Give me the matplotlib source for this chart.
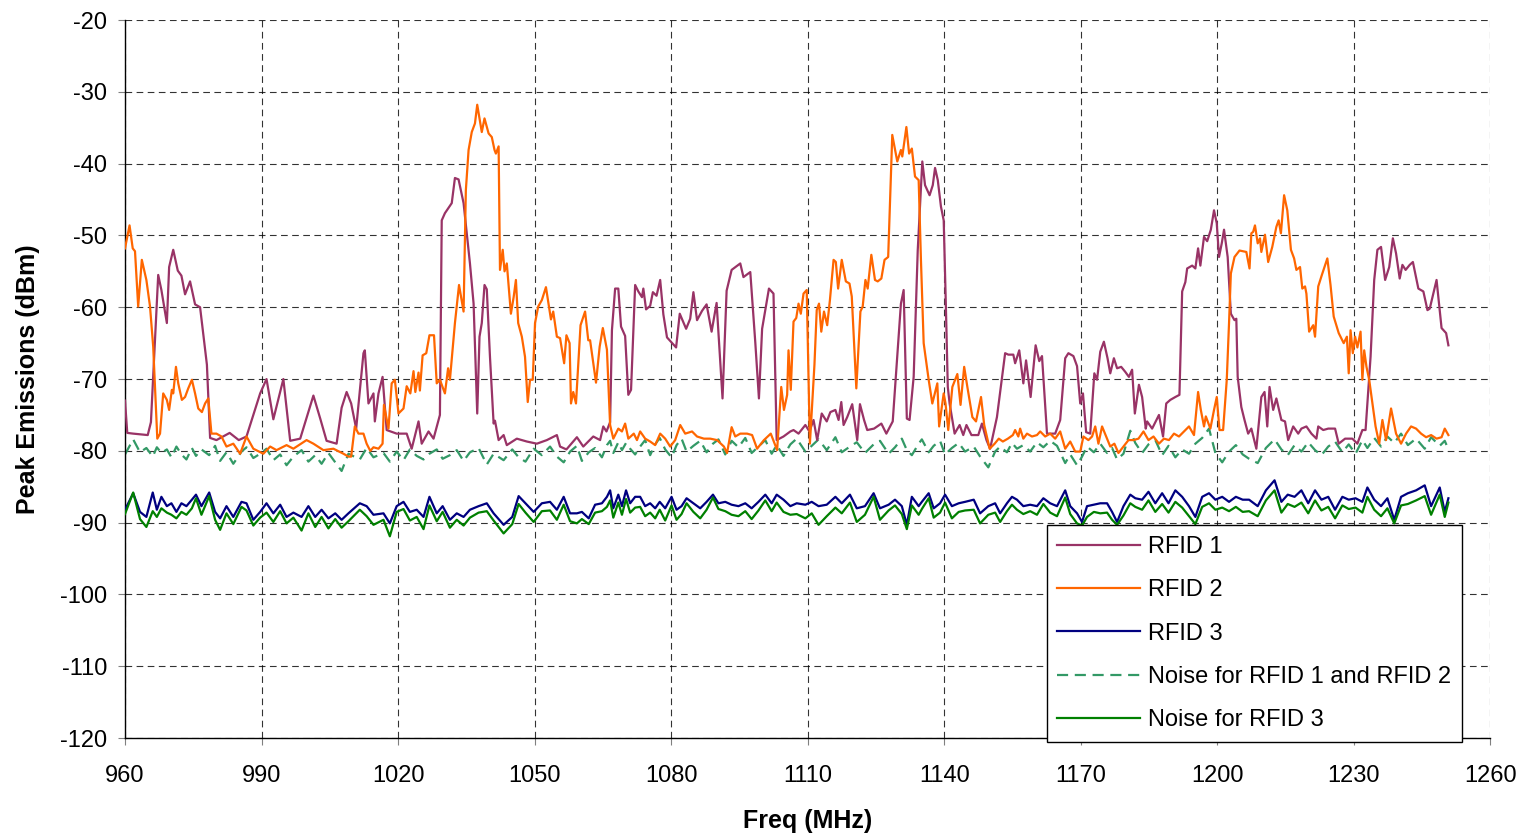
import matplotlib
matplotlib.use("Agg")
import matplotlib.pyplot as plt
import numpy as np

plt.rcParams["font.family"] = ["Liberation Sans", "DejaVu Sans"]
plt.rcParams["axes.unicode_minus"] = False

# (freq MHz, peak dBm)
rfid1 = [
    (960, -73), (960.5, -77.5), (961.8, -77.6), (965, -77.8), (965.7, -76), (967.3, -55.5),
    (968, -57.6), (969.2, -62.2), (969.7, -54.4), (970.6, -52), (971.6, -54.9), (972.4, -55.6),
    (973.2, -58.2), (974.3, -56.4), (975.4, -59.6), (976.5, -60), (978, -68), (978.7, -78.2),
    (980.1, -78.5), (983, -77.5), (985, -78.5), (986.7, -78), (989.7, -72), (991.1, -70),
    (992.6, -75.6), (994.8, -70), (996.3, -78.6), (998.5, -78.3), (1001.4, -72.3), (1002.9, -75.5),
    (1004.3, -78.6), (1006.5, -79), (1007.6, -74), (1008.7, -71.8), (1009.7, -73.4), (1010.8, -76.9),
    (1012.4, -66.4), (1012.7, -66), (1013.5, -73.4), (1014.6, -72), (1014.9, -75.9), (1015.7, -72),
    (1016.6, -69.7), (1017.5, -77.1), (1019.7, -77.6), (1021.9, -77.6), (1023, -79.7), (1024.5, -75.9),
    (1025.2, -79), (1026.7, -77.3), (1027.8, -78.3), (1029.2, -75), (1029.6, -47.9), (1030.3, -46.9),
    (1031.8, -45.5), (1032.5, -42), (1033.3, -42.2), (1034.4, -45.5), (1035.1, -49.7), (1035.8, -53.9),
    (1036.6, -59.5), (1037.4, -74.8), (1037.9, -64.1), (1038.4, -62.2), (1039, -56.9), (1039.5, -57.5),
    (1040.2, -66.9), (1041, -76.2), (1041.3, -75.8), (1042.1, -78.5), (1043.2, -77.8), (1043.9, -79.2),
    (1046.1, -78.3), (1048.3, -78.7), (1050.5, -79), (1052.7, -78.5), (1054.9, -77.8), (1055.6, -79.4),
    (1057, -79.8), (1059.3, -78.1), (1060.7, -79.4), (1062.9, -78), (1064.4, -78.5), (1065.1, -76.6),
    (1065.8, -77.3), (1066.6, -76), (1067, -63.2), (1067.7, -57.4), (1068.4, -57.4), (1069, -62.7),
    (1069.9, -64), (1070.6, -72.2), (1071.2, -71.5), (1072.1, -56.9), (1072.8, -57.8), (1073.6, -58.6),
    (1073.9, -57.4), (1074.5, -60.3), (1075.4, -59.8), (1076, -57.9), (1076.8, -58.4), (1077.6, -56.2),
    (1078.3, -61), (1079.1, -64.2), (1080.1, -64.9), (1081.1, -65.6), (1081.9, -60.9), (1083.3, -63),
    (1084.2, -61.6), (1084.9, -57.9), (1085.7, -61.8), (1086.8, -60.5), (1087.8, -59.6), (1088.9, -63.4),
    (1090, -59.4), (1091.3, -72.7), (1092.2, -57.7), (1093.3, -54.8), (1095.2, -53.9), (1095.9, -55.8),
    (1097.4, -55.1), (1098.5, -64.9), (1099.3, -72.7), (1100, -63), (1101.5, -57.4), (1102.5, -58.1),
    (1103.2, -78.5), (1104.7, -78), (1106.2, -77.3), (1106.9, -77.1), (1108, -77.6), (1109.5, -76.4),
    (1110.4, -77.3), (1111.3, -75.7), (1112.1, -78.5), (1113.1, -74.8), (1114.2, -75.9), (1115, -74.6),
    (1116.1, -74.3), (1116.8, -75.7), (1117.4, -73.2), (1117.9, -76.4), (1118.7, -75.3), (1119.8, -73.5),
    (1120.9, -78.5), (1121.5, -73.5), (1122.4, -75.7), (1123.1, -77.1), (1124.6, -76.9), (1126.2, -76.2),
    (1127.3, -77.6), (1128.7, -75.9), (1129.8, -66), (1130.5, -59.5), (1131.1, -57.6), (1131.8, -75.5),
    (1132.4, -75.7), (1133.3, -69.7), (1134.2, -52), (1135.2, -39.7), (1135.8, -43), (1136.8, -44.4),
    (1137.5, -43), (1138, -40.6), (1138.6, -42.3), (1139.3, -46), (1139.9, -47.9), (1140.4, -60.4),
    (1140.8, -71.1), (1141.2, -73.4), (1142.3, -77.6), (1143.4, -76.4), (1144.2, -77.8), (1144.9, -76.4),
    (1146, -77.8), (1147.5, -77.8), (1148.3, -76.2), (1149.3, -78.5), (1150.1, -79.7), (1151.6, -75.3),
    (1152.4, -71.3), (1153.4, -66.4), (1154.1, -66.6), (1155.2, -66.6), (1155.6, -67.8), (1156.5, -66),
    (1157.4, -70.6), (1158, -67.4), (1159, -72.5), (1160.1, -65.3), (1160.9, -67.5), (1161.5, -66.8),
    (1162.6, -77.6), (1164.4, -77.6), (1165.5, -75.7), (1166.6, -67.1), (1167.3, -66.4), (1168.4, -66.8),
    (1169.2, -68.2), (1169.9, -73.4), (1170.5, -72), (1171.2, -77.4), (1172.1, -77.6), (1173, -69.2),
    (1173.6, -70.1), (1174.3, -66.2), (1175.1, -64.8), (1175.9, -67.1), (1176.5, -69.2), (1177.3, -67.1),
    (1178, -68.5), (1178.9, -68.3), (1179.8, -69), (1180.6, -69.7), (1181.3, -68.7), (1181.9, -74.8),
    (1182.8, -70.8), (1183.5, -72.5), (1184.3, -76.9), (1184.6, -75.9), (1185.7, -76.9), (1187.2, -75),
    (1188.1, -78), (1188.8, -73.4), (1189.7, -72.9), (1190.8, -72.5), (1191.7, -72.2), (1192.3, -57.8),
    (1193, -56.5), (1193.4, -54.6), (1194.5, -54.2), (1195.2, -54.6), (1195.8, -51.8), (1196.3, -54.2),
    (1197.1, -50.2), (1197.8, -50.8), (1198.6, -49.2), (1199.3, -46.5), (1199.9, -48.3), (1200.4, -53),
    (1201, -51.1), (1201.5, -49.2), (1202.3, -53), (1203, -60.9), (1203.8, -61.8), (1204.2, -61.6),
    (1204.5, -69.7), (1205.3, -73.9), (1206, -75.7), (1206.8, -77.6), (1207.5, -76.9), (1208.6, -79.7),
    (1209.7, -72.5), (1210.4, -71.8), (1211, -76.6), (1211.5, -71.1), (1212.3, -74.3), (1213, -72.7),
    (1214.1, -75.7), (1214.9, -75.9), (1215.6, -78.5), (1216.7, -76.6), (1217.8, -77.6), (1218.5, -76.9),
    (1219.6, -76.6), (1220.7, -77.6), (1221.8, -78.3), (1222.2, -76.6), (1223.3, -77.1), (1224.4, -76.9),
    (1225.9, -76.9), (1226.7, -79), (1228.1, -78.3), (1229.7, -78.3), (1230.8, -79), (1231.9, -77.1),
    (1232.6, -77.1), (1233, -73.4), (1233.7, -66.9), (1234.5, -56.2), (1235.2, -52), (1236, -51.6),
    (1236.9, -56.2), (1237.8, -54.4), (1238.6, -50.4), (1239.3, -52.5), (1240.1, -56), (1240.7, -54.1),
    (1241.4, -54.8), (1242.3, -54.1), (1243, -53.7), (1244.2, -57.4), (1245.3, -57.8), (1246.2, -60.4),
    (1246.7, -60.2), (1248.2, -56.2), (1249.3, -62.9), (1250.3, -63.6), (1250.8, -65.3),
]

rfid2 = [
    (960, -51.8), (961, -48.6), (961.7, -51.8), (962.2, -52.2), (962.9, -59.9), (963.7, -53.4),
    (964.7, -56.2), (965.5, -59.9), (966.2, -65.5), (966.6, -71.1), (967.1, -78.3), (967.7, -77.6),
    (968.4, -72), (969.2, -72.9), (969.7, -74.3), (970.3, -71.5), (970.6, -72), (971.2, -68.3),
    (971.7, -70.6), (972.5, -72.9), (973.2, -72.5), (973.9, -71.3), (974.7, -70.1), (975.4, -72),
    (976.1, -74.1), (976.9, -74.6), (977.6, -73.4), (978.3, -72.7), (979, -77.6), (980.1, -77.6),
    (981.2, -78), (982.3, -79.4), (983.8, -79), (985.3, -80.4), (986.7, -78), (988.2, -79.7),
    (990.4, -80.4), (991.9, -79.4), (993.3, -79.9), (995.5, -79.2), (997, -79.7), (999.9, -78.5),
    (1001.4, -79), (1003.6, -79.9), (1005.8, -79.7), (1008, -80.4), (1009.1, -80.8), (1009.7, -80.8),
    (1010.5, -76.6), (1011.3, -77.6), (1012.4, -77.6), (1013.1, -79), (1013.9, -80), (1014.6, -79.5),
    (1015.7, -79.7), (1016.6, -79), (1016.9, -73.6), (1017.9, -76.9), (1018.6, -70.6), (1019.3, -70.1),
    (1020.1, -74.8), (1021.2, -74.1), (1021.9, -71), (1022.7, -72), (1023.4, -68.9), (1023.8, -71.8),
    (1024.5, -69.1), (1024.8, -71.6), (1025.4, -66.7), (1026.2, -66.4), (1026.9, -63.9), (1027.9, -63.9),
    (1028.5, -70.6), (1029.2, -70.1), (1030.3, -72), (1031, -68.5), (1031.4, -70.1), (1032.5, -62.2),
    (1033.4, -56.9), (1034.4, -60.6), (1034.9, -43.7), (1035.5, -38.1), (1036.2, -35.6), (1036.9, -34.4),
    (1037.4, -31.8), (1038.4, -35.6), (1039, -33.7), (1039.9, -35.8), (1040.6, -36.3), (1041.2, -38.1),
    (1041.5, -38.6), (1042.1, -37.6), (1042.4, -54.8), (1043, -52), (1043.4, -55), (1043.9, -53.9),
    (1044.8, -60.9), (1045.4, -58.6), (1045.9, -56.2), (1046.4, -62.2), (1047.2, -64.1), (1047.9, -66.9),
    (1048.5, -73.2), (1049, -70.1), (1049.6, -70.1), (1050.1, -62.2), (1050.8, -59.9), (1051.6, -59),
    (1052.5, -57.2), (1053.6, -61.7), (1054.1, -60.6), (1054.9, -64.1), (1055.6, -64.3), (1056.5, -67.8),
    (1057, -63.9), (1057.7, -65), (1058, -73.4), (1058.5, -71.8), (1059.1, -73.4), (1060.1, -62.5),
    (1061.1, -60.6), (1061.8, -64.6), (1062.2, -64.6), (1063.5, -70.5), (1064.3, -65.5), (1065, -62.9),
    (1065.9, -65.9), (1066.6, -76.4), (1067.3, -78.3), (1068.4, -76.9), (1069.2, -77.3), (1069.9, -76.2),
    (1070.6, -78.3), (1071.8, -77.6), (1072.5, -78.5), (1073.2, -77.3), (1074.3, -78.3), (1075.4, -78.7),
    (1076.5, -79.2), (1077.6, -77.6), (1078.7, -78.3), (1079.8, -79.4), (1080.9, -78.5), (1082, -76.4),
    (1083.1, -77.6), (1084.6, -77.3), (1085.7, -78), (1087.2, -78.3), (1088.6, -78.3), (1090.1, -78.5),
    (1091.6, -79.4), (1092.3, -80.3), (1093.3, -76.7), (1094.1, -78), (1095.2, -77.6), (1096.7, -77.6),
    (1097.8, -77.8), (1098.9, -79.7), (1100.4, -78.5), (1101.9, -77.6), (1103.3, -79.9), (1104.2, -71.1),
    (1104.8, -74.3), (1105.5, -72.2), (1105.8, -66), (1106.3, -71.5), (1106.9, -62), (1107.5, -61.5),
    (1108, -59.5), (1108.5, -60.9), (1109.1, -58.1), (1109.8, -57.6), (1110.5, -79), (1111.5, -68),
    (1112, -60.4), (1112.5, -59.5), (1113, -63.4), (1113.6, -60.6), (1114.3, -62.5), (1114.9, -59),
    (1115.7, -53.4), (1116.2, -53.7), (1116.7, -57.4), (1117.5, -53.4), (1118.4, -56.4), (1119.2, -56.7),
    (1119.7, -58.5), (1120.7, -71.3), (1121.6, -60.6), (1122.1, -59.9), (1122.7, -56.2), (1123.2, -57.4),
    (1124, -52.7), (1124.8, -56.2), (1125.4, -56.4), (1126.2, -56), (1126.9, -53.4), (1127.7, -53),
    (1128.6, -36), (1129.7, -39.7), (1130.5, -38.1), (1130.8, -39), (1131.7, -34.9), (1132.3, -38.6),
    (1132.9, -37.9), (1133.6, -41.8), (1134.4, -42.3), (1134.9, -53.4), (1135.5, -65), (1136.6, -70.1),
    (1137.4, -73.4), (1138.5, -70.6), (1138.9, -76.6), (1139.9, -72), (1140.3, -73.4), (1140.9, -77.1),
    (1141.8, -71.1), (1142.9, -69.3), (1143.6, -73.6), (1144.4, -68.3), (1145.1, -71.1), (1146.2, -75.3),
    (1147, -75.9), (1148.1, -72.5), (1148.8, -76.4), (1150, -79.7), (1151.1, -79), (1152, -78.3),
    (1152.9, -78.7), (1154, -78.3), (1155.1, -77.8), (1155.6, -77.1), (1156.3, -78), (1156.7, -76.9),
    (1157.4, -78.3), (1158.2, -77.6), (1159.3, -78), (1160.4, -77.8), (1161.1, -77.3), (1162.2, -78),
    (1163.3, -77.6), (1164.4, -78.3), (1165.5, -77.3), (1166.6, -79.7), (1167.7, -78.7), (1168.8, -80.1),
    (1169.9, -80.1), (1170.6, -78), (1171.7, -78.5), (1172.5, -78), (1173.2, -76.6), (1173.9, -79),
    (1174.7, -76.6), (1175.6, -78), (1176.5, -79.4), (1177.4, -79), (1178.3, -80.3), (1179.4, -79.4),
    (1180.5, -78.5), (1181.6, -78.5), (1182.7, -78.3), (1183.8, -77.3), (1184.9, -78.5), (1186, -78),
    (1187.2, -79), (1188.3, -78.3), (1189.4, -78.5), (1190.5, -77.6), (1191.6, -78), (1192.7, -77.3),
    (1193.8, -76.6), (1194.9, -77.8), (1195.8, -71.8), (1196.4, -74.3), (1197.1, -76.6), (1197.5, -75.2),
    (1198.5, -76.9), (1199.3, -74.3), (1199.9, -72.5), (1200.5, -77.1), (1201.3, -77.1), (1202.1, -70.1),
    (1202.6, -62.2), (1203, -55.3), (1203.8, -53), (1204.9, -52.1), (1206.4, -52.3), (1207.1, -54.6),
    (1207.5, -49.7), (1207.9, -49.5), (1208.3, -48.6), (1208.9, -51.1), (1209.4, -50.4), (1209.7, -52.3),
    (1210.5, -49.9), (1211.2, -53.7), (1212.1, -51.6), (1213, -48.8), (1213.5, -47.9), (1214, -49.7),
    (1214.7, -44.4), (1215.4, -46.5), (1216.2, -52), (1216.9, -53.2), (1217.4, -54.8), (1218.2, -54.4),
    (1218.7, -57.4), (1219.3, -57.1), (1219.6, -58.1), (1220.2, -63.4), (1221.1, -62.5), (1221.5, -64.1),
    (1222.2, -57.1), (1223, -55.5), (1224.2, -53.2), (1224.9, -56.9), (1225.6, -61.3), (1226.7, -63.6),
    (1227.8, -65), (1228.5, -64.1), (1228.9, -69.2), (1229.3, -63.2), (1229.8, -66.4), (1230.3, -64.1),
    (1230.8, -65.6), (1231.5, -63.4), (1231.9, -70.1), (1232.3, -66), (1232.8, -68.3), (1233.4, -70.1),
    (1234, -72.9), (1234.8, -76.6), (1235.6, -79), (1236.3, -75.7), (1237.1, -78.5), (1238.2, -74.1),
    (1239.3, -77.6), (1240.4, -79), (1241.5, -77.6), (1242.6, -76.6), (1243.7, -76.9), (1244.8, -77.6),
    (1245.9, -78.1), (1247, -77.8), (1248.2, -78.3), (1249.3, -78.1), (1250, -76.9), (1250.8, -77.8),
]

noise_freq = [
    960, 961.8, 963.3, 964.7, 966.1, 967, 968, 969.2, 970.2, 971.3, 972.4, 973.5, 974.7, 975.6,
    976.8, 978.5, 979.8, 980.9, 982.3, 983.8, 985.6, 986.7, 988.2, 989.7, 991.1, 992.6, 994.1,
    995.5, 997, 998.8, 1000.3, 1001.8, 1003.2, 1004.7, 1006.2, 1007.6, 1009.1, 1011.6, 1013.1,
    1014.6, 1016.8, 1018.2, 1019.7, 1021.2, 1022.6, 1024.1, 1025.6, 1026.9, 1028.5, 1029.8,
    1031.4, 1032.9, 1034.4, 1035.8, 1037.7, 1039.5, 1041, 1043.2, 1045.1, 1046.5, 1048, 1049.8,
    1051.6, 1053.4, 1054.9, 1056.4, 1057.8, 1059.3, 1060.4, 1061.9, 1063.3, 1064.8, 1065.9,
    1066.6, 1067.3, 1068.4, 1069.2, 1070.1, 1071, 1072.1, 1073.2, 1074.3, 1075.4, 1076.5, 1077.5,
    1078.7, 1080.1, 1081.2, 1082.3, 1083.4, 1084.9, 1086.4, 1087.8, 1089.2, 1090.4, 1091.9,
    1093.3, 1094.8, 1096.3, 1097.7, 1099.2, 1100.7, 1102.1, 1103.2, 1104.7, 1106.2, 1107.6,
    1109.5, 1110.9, 1112.4, 1114.2, 1116.1, 1117.5, 1119.3, 1120.8, 1122.6, 1124.5, 1125.9,
    1127.8, 1129.2, 1130.7, 1131.8, 1132.9, 1134.4, 1135.1, 1136.6, 1137.7, 1139.1, 1140.2,
    1141.7, 1143.2, 1144.6, 1146.5, 1147.9, 1149.7, 1151.2, 1152.3, 1153.8, 1154.9, 1156, 1157.4,
    1158.9, 1160.4, 1161.8, 1163.3, 1164.8, 1166.6, 1167.7, 1169.2, 1170.3, 1171.4, 1172.9,
    1174.3, 1175.8, 1176.9, 1178, 1179.4, 1180.9, 1182, 1183.5, 1184.9, 1186.4, 1187.9, 1189.3,
    1190.8, 1192.3, 1193.8, 1195.2, 1196.7, 1198.2, 1199.6, 1201.1, 1202.6, 1204.1, 1205.6, 1207,
    1208.9, 1210.7, 1212.6, 1214.1, 1215.5, 1217, 1218.5, 1220, 1221.5, 1222.9, 1224.4, 1225.9,
    1227.5, 1228.9, 1230.4, 1231.9, 1233, 1234.5, 1236, 1237.4, 1238.9, 1240.4, 1241.9, 1243.7,
    1245.6, 1247, 1248.9, 1250, 1250.8,
]

rfid3_dbm = [
    -88.2, -85.9, -88.5, -89.2, -85.8, -88.2, -86.4, -87.7, -87.3, -88.5, -87.3, -87.7, -86.8, -86.1,
    -87.7, -85.8, -88.5, -89.4, -87.7, -89.2, -87.1, -87.3, -89.6, -88.5, -87.3, -88.7, -87.5,
    -89.2, -88.6, -89.2, -87.7, -89.2, -88.2, -89.4, -88.7, -89.6, -88.7, -87.3, -87.7,
    -88.9, -88.7, -90.1, -87.7, -87.1, -88.5, -88.2, -89.2, -86.4, -88.7, -87.7,
    -89.6, -88.7, -89.2, -88.2, -87.7, -87.3, -88.7, -90.3, -89.2, -86.3, -87.3, -88.5,
    -87.3, -87.1, -88.2, -86.4, -88.7, -88.7, -88.5, -89.4, -87.5, -87.3, -86.4,
    -85.5, -88, -86.1, -87.7, -85.5, -87.3, -86.4, -86.4, -87.7, -87.3, -88, -87.1,
    -88, -86.4, -88.2, -87.7, -86.6, -87.3, -88, -87.1, -86.1, -87.3, -87.1,
    -87.5, -87.7, -87.3, -88, -87.1, -86.1, -87.3, -86.1, -86.8, -87.7, -87.3,
    -87.5, -87.1, -87.7, -87.5, -86.4, -87.3, -86.1, -88, -87.7, -85.9, -88,
    -87.5, -86.8, -87.7, -90.3, -86.4, -87.7, -87.1, -85.9, -88, -87.3, -86.1,
    -87.7, -87.3, -87.1, -86.8, -88.7, -87.7, -87.3, -88.7, -87.3, -86.4, -86.8, -87.7,
    -87.5, -87.7, -86.6, -87.3, -87.7, -85.5, -87.7, -88.7, -89.9, -87.7, -87.5,
    -87.3, -87.3, -88.5, -89.9, -87.7, -86.1, -86.6, -86.8, -85.7, -87.3, -85.9, -87.3,
    -85.5, -86.4, -87.7, -89.2, -86.4, -85.9, -86.8, -86.4, -87.1, -86.4, -86.8, -86.8,
    -87.7, -85.5, -84.1, -87.1, -86.1, -86.4, -85.5, -87.3, -85.5, -86.8, -86.4, -88.2,
    -86.4, -86.8, -86.6, -87.1, -85.1, -86.8, -87.7, -86.6, -89.6, -86.4, -85.9, -85.5,
    -84.8, -87.7, -85.1, -88.5, -86.6,
]

noise3_dbm = [
    -88.8, -85.8, -89.5, -90.6, -88.4, -89.2, -88, -88.6, -88.9, -89.4, -88.5, -88.9, -88, -86.6,
    -88.9, -86.3, -89.6, -91, -88.7, -90.2, -87.8, -88.3, -90.4, -89.3, -88.6, -89.9, -88.4,
    -90.1, -89.3, -91.1, -88.7, -90.6, -89.2, -90.8, -89.5, -90.7, -89.8, -88.2, -89.1,
    -90.3, -89.6, -91.9, -88.5, -88.1, -89.7, -89.2, -90.9, -87.6, -89.8, -88.5,
    -90.7, -89.6, -90.4, -89.3, -88.6, -88.4, -89.7, -91.5, -90.2, -87.4, -88.6, -89.9,
    -88.4, -88.3, -89.6, -87.5, -89.8, -90.1, -89.5, -90.2, -88.6, -88.4, -87.8,
    -86.9, -89.3, -87.2, -88.9, -86.7, -88.6, -87.9, -87.8, -89.1, -88.6, -89.4, -88.2,
    -89.7, -87.6, -89.6, -88.8, -87.3, -88.5, -89.4, -88.2, -86.5, -88.1, -88.4,
    -88.9, -89.1, -88.4, -89.5, -88.3, -86.9, -88.4, -87.2, -88.5, -88.9, -88.8,
    -89.4, -88.7, -90.3, -89.1, -87.9, -88.7, -87.2, -89.9, -88.9, -86.4, -89.6,
    -88.3, -87.6, -88.8, -90.9, -87.6, -88.9, -88.1, -86.6, -89.3, -88.6, -87.2,
    -89.4, -88.5, -88.3, -88.2, -90.1, -88.9, -88.6, -89.9, -88.4, -87.5, -88.2, -88.8,
    -88.4, -88.9, -87.4, -88.6, -89.1, -86.5, -88.8, -90.1, -90.4, -89.2, -88.5,
    -88.7, -88.6, -89.6, -90.3, -89, -87.3, -87.8, -88.2, -86.9, -88.5, -87.4, -88.6,
    -87.1, -87.9, -89.1, -90.2, -87.8, -87.3, -88.2, -87.9, -88.4, -87.8, -88.5, -88.4,
    -89.1, -86.9, -85.5, -88.6, -87.4, -87.8, -87.2, -88.7, -86.9, -88.3, -87.8, -89.4,
    -87.6, -88.1, -87.9, -88.6, -86.4, -88.2, -89.1, -88, -90.1, -87.6, -87.4, -86.9,
    -86.3, -88.9, -86.1, -89.2, -87.2,
]

noise12_dbm = [
    -80.5, -78.4, -80.2, -79.6, -80.8, -79.5, -80.3, -79.8, -80.9, -79.4, -80.5, -81.2, -79.6, -80.7,
    -79.8, -80.6, -79.3, -81.4, -80.2, -81.8, -80.1, -79.5, -81, -80.4, -79.7, -81.3, -80.5,
    -82, -80.8, -79.9, -81.5, -80.6, -81.8, -80.3, -81.6, -82.8, -80.4, -81.2, -79.6,
    -80.9, -80.3, -81.5, -80.1, -81.3, -79.8, -80.7, -81.2, -80.4, -79.8, -81.1,
    -80.6, -79.9, -81.4, -80.2, -79.6, -81.9, -80.4, -81.3, -79.8, -80.9, -81.5, -79.7,
    -80.6, -79.4, -80.8, -81.6, -80.1, -79.3, -81.4, -80.2, -79.6, -80.9, -79.2,
    -78.6, -80.3, -78.8, -79.9, -78.9, -79.7, -80.5, -79.4, -78.5, -80.6, -79.1, -78.2,
    -79.8, -80.9, -79.2, -78.3, -80.1, -79.3, -78.6, -80.2, -79, -78.4, -80.5,
    -78.6, -79.5, -78.2, -80.3, -79.4, -78.5, -80.4, -79.2, -80.7, -79.1, -78.3,
    -80.1, -79.3, -78.4, -79.9, -78.1, -80.2, -79.4, -78.8, -80.3, -79.1, -78.6,
    -80.4, -79.5, -78.3, -79.9, -80.6, -79, -78.4, -80.2, -79.3, -78.6, -80.5,
    -79.6, -78.9, -80.1, -79.4, -80.8, -82.3, -80.1, -79.4, -80.2, -78.9, -79.7, -79.2,
    -80.1, -78.8, -79.5, -78.6, -79.3, -81.7, -80.5, -82, -80.8, -79.4, -80.2,
    -79, -80.3, -79.6, -81.2, -80.4, -77.2, -78.9, -80.3, -79.1, -78.5, -80.6, -79.3,
    -80.9, -79.8, -80.4, -79, -78.2, -76.9, -80.3, -81.6, -80.1, -79.2, -80.5, -81.1,
    -81.7, -79.6, -78.4, -79.8, -80.6, -79.2, -80.1, -78.8, -79.9, -80.6, -79.4, -78.7,
    -80.2, -79.1, -80.4, -78.5, -79.6, -78.2, -79.4, -78, -78.9, -77.6, -79.2, -78.3,
    -79.7, -78.1, -79.3, -78.6, -79.8,
]

series_names = ["RFID 1", "RFID 2", "RFID 3", "Noise for RFID 1 and RFID 2", "Noise for RFID 3"]
x_ticks = list(range(960, 1261, 30))
y_ticks = list(range(-120, -19, 10))


fig = plt.figure(figsize=(15.28, 8.34), dpi=100)
ax = fig.add_axes([0.0818, 0.115, 0.8935, 0.861])

f1, v1 = zip(*rfid1)
f2, v2 = zip(*rfid2)
ax.plot(f1, v1, color="#993366", lw=1.6, label=series_names[0], zorder=4)
ax.plot(f2, v2, color="#FF6600", lw=1.6, label=series_names[1], zorder=5)
ax.plot(noise_freq, rfid3_dbm, color="#000080", lw=1.6, label=series_names[2], zorder=3)
ax.plot(noise_freq, noise12_dbm, color="#339966", lw=1.6, ls=(0, (5, 3)),
        label=series_names[3], zorder=2)
ax.plot(noise_freq, noise3_dbm, color="#008000", lw=1.6, label=series_names[4], zorder=3)

ax.set_xlim(960, 1260)
ax.set_ylim(-120, -20)
ax.set_xticks(x_ticks)
ax.set_yticks(y_ticks)
ax.grid(True, color="black", ls=(0, (6, 4)), lw=0.8, alpha=0.8)
ax.set_axisbelow(True)
for side in ["top", "right"]:
    ax.spines[side].set_visible(False)
for side in ["left", "bottom"]:
    ax.spines[side].set_color("black")
    ax.spines[side].set_linewidth(1.0)
ax.tick_params(direction="out", length=5, color="#808080", labelsize=17)
ax.tick_params(axis="y", pad=8)
ax.tick_params(axis="x", pad=14.5)

ax.set_xlabel("Freq (MHz)", fontsize=18, fontweight="bold", labelpad=16)
ax.set_ylabel("Peak Emissions (dBm)", fontsize=18, fontweight="bold", labelpad=14)

leg = ax.legend(loc="lower left", bbox_to_anchor=(0.675, -0.005), fontsize=17,
                frameon=True, fancybox=False, edgecolor="black", framealpha=1,
                handlelength=3.5, handletextpad=0.35, labelspacing=0.9,
                borderpad=0.45, borderaxespad=0)
leg.get_frame().set_linewidth(1.0)
leg.set_zorder(10)

fig.savefig("out.png", dpi=100)
